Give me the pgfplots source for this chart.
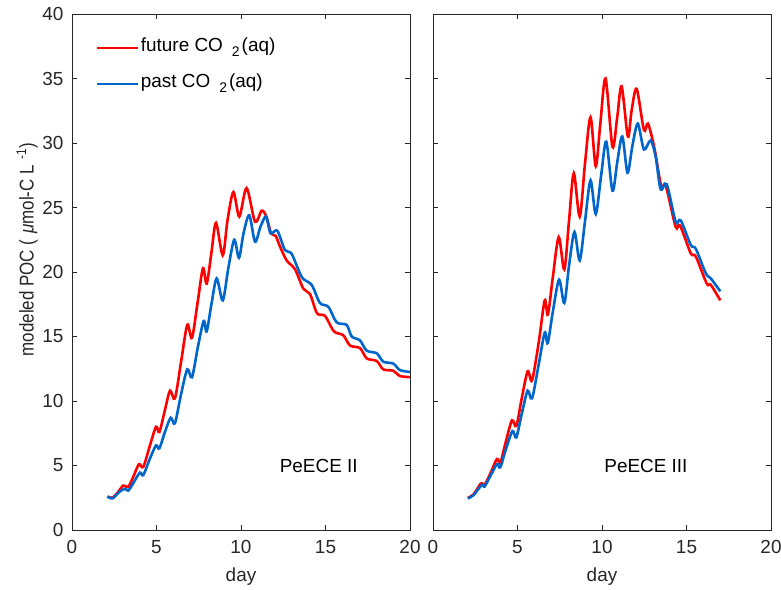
\documentclass[border=0pt]{standalone}
\usepackage{graphicx}
\usepackage{pgfplots}
\pgfplotsset{compat=1.18}
\usepackage{fontspec}
\setmainfont{Liberation Sans}
\definecolor{futred}{rgb}{1,0,0}
\definecolor{pastblue}{rgb}{0.0,0.40,0.80}
\definecolor{axgray}{gray}{0.15}
\newcommand{\subtwo}{\hspace{9bp}\raisebox{-5bp}{\fontsize{14}{14}\selectfont 2}\hspace{2bp}}
\begin{document}
\begin{tikzpicture}
\useasboundingbox (0,0) rectangle (781bp,590bp);
\pgfplotsset{
  base/.style={
    scale only axis, width=338bp, height=516bp,
    xmin=0, xmax=20, ymin=0, ymax=40,
    xtick={0,5,10,15,20}, ytick={0,5,...,40},
    tick align=inside, major tick length=5bp,
    axis line style={axgray, line width=0.6bp},
    every tick/.style={axgray, line width=0.6bp},
    tick label style={font=\fontsize{19}{22}\selectfont, text=axgray},
    xticklabel style={yshift=-7bp},
    yticklabel style={xshift=-5bp},
    label style={font=\fontsize{19}{22}\selectfont, text=axgray},
    /pgf/number format/assume math mode=true,
    xlabel={day},
    xlabel style={at={(axis description cs:0.5,-0.091)}, anchor=center},
    clip=false,
  },
  fut/.style={futred, line width=2.6bp, smooth, tension=0.5, no markers},
  pst/.style={pastblue, line width=2.6bp, smooth, tension=0.5, no markers},
}
\begin{axis}[base, at={(72bp,60bp)}, anchor=south west,
  ylabel={\scalebox{0.85}[1]{modeled POC (\hspace{7bp}\textit{μ}mol-C L\hspace{6bp}\textsuperscript{-1})}},
  ylabel style={at={(axis description cs:-0.133,0.543)}, anchor=center, rotate=0,
    font=\fontsize{20}{22}\selectfont},
  legend style={draw=none, fill=none, at={(axis description cs:0.071,0.957)}, anchor=north west,
    font=\fontsize{19}{22}\selectfont, text=black, row sep=13bp, inner sep=0pt,
    nodes={inner sep=1.5bp, text height=14bp, text depth=6bp},
    cells={anchor=west}},
  legend image code/.code={\draw[#1, line width=2.2bp] (0bp,0bp) -- (41bp,0bp);},
]
\addplot[fut] coordinates {
(2.1,2.6) (2.4,2.5) (2.7,2.9) (3.04,3.45) (3.33,3.35) (3.65,4.2) (3.96,5.1) (4.22,4.9)
(4.6,6.5) (4.97,8.0) (5.17,7.6) (5.5,9.3) (5.8,10.8) (6.09,10.2) (6.45,13.0) (6.82,15.9)
(7.1,14.9) (7.45,17.8) (7.75,20.3) (7.97,19.1) (8.25,21.5) (8.52,23.8) (8.92,21.3)
(9.2,24.0) (9.55,26.2) (9.9,24.3) (10.33,26.5) (10.83,23.9) (11.22,24.75) (11.5,24.3)
(11.78,23.0) (12.05,22.8) (12.3,22.0) (12.7,20.9) (13.2,20.2) (13.69,18.7) (14.08,18.3)
(14.5,16.8) (14.97,16.6) (15.5,15.4) (16.05,15.1) (16.45,14.3) (17.04,14.1) (17.44,13.3)
(18.03,13.1) (18.42,12.45) (19.01,12.35) (19.4,11.94) (20,11.85)};
\addlegendentry{future CO\subtwo(aq)}
\addplot[pst] coordinates {
(2.1,2.6) (2.4,2.45) (2.8,2.95) (3.14,3.2) (3.33,3.05) (3.7,3.8) (4.02,4.45) (4.22,4.26)
(4.6,5.5) (4.97,6.55) (5.17,6.33) (5.5,7.6) (5.84,8.7) (6.09,8.27) (6.45,10.5) (6.82,12.45)
(7.1,11.84) (7.45,14.2) (7.79,16.2) (7.97,15.4) (8.25,17.5) (8.56,19.5) (8.92,17.8)
(9.25,20.3) (9.6,22.5) (9.88,21.1) (10.15,23.0) (10.49,24.4) (10.83,22.35) (11.15,23.5)
(11.48,24.3) (11.75,23.0) (12.15,23.2) (12.6,21.7) (13.0,21.4) (13.6,19.6) (14.18,19.0)
(14.67,17.6) (15.17,17.3) (15.66,16.1) (16.25,15.9) (16.55,15.0) (17.04,14.7) (17.44,13.9)
(18.03,13.7) (18.42,13.05) (19.01,12.9) (19.4,12.4) (20,12.25)};
\addlegendentry{past CO\subtwo(aq)}
\node[font=\fontsize{19}{22}\selectfont, text=black] at (axis cs:14.6,5.0) {PeECE II};
\end{axis}
\begin{axis}[base, at={(433bp,60bp)}, anchor=south west, yticklabels={}]
\addplot[fut] coordinates {
(2.06,2.5) (2.4,2.75) (2.83,3.6) (3.05,3.5) (3.4,4.4) (3.78,5.5) (3.98,5.2) (4.3,6.8)
(4.67,8.5) (4.93,8.06) (5.25,10.2) (5.6,12.3) (5.86,11.6) (6.25,14.5) (6.61,17.8) (6.8,16.7)
(7.1,19.7) (7.44,22.7) (7.77,20.2) (8.05,24.0) (8.33,27.65) (8.68,24.3) (9.0,28.5)
(9.32,32.0) (9.63,28.2) (9.9,31.5) (10.21,35.0) (10.62,29.7) (10.9,32.0) (11.16,34.4)
(11.53,30.5) (11.75,32.5) (12.05,34.2) (12.48,31.0) (12.72,31.5) (13.1,29.6) (13.51,26.6)
(13.77,26.7) (14.36,23.5) (14.62,23.6) (15.25,21.45) (15.55,21.2) (16.2,19.1) (16.44,19.0)
(17,17.8)};
\addplot[pst] coordinates {
(2.06,2.45) (2.4,2.7) (2.89,3.5) (3.05,3.37) (3.4,4.2) (3.78,5.1) (3.98,4.86) (4.3,6.2)
(4.7,7.67) (4.93,7.18) (5.25,9.0) (5.6,10.8) (5.86,10.2) (6.25,12.8) (6.61,15.3) (6.79,14.5)
(7.1,17.0) (7.46,19.4) (7.77,17.6) (8.05,20.5) (8.37,23.1) (8.68,20.9) (9.0,24.0)
(9.32,27.1) (9.63,24.5) (9.95,27.5) (10.25,30.1) (10.62,26.3) (10.9,28.5) (11.2,30.5)
(11.51,27.7) (11.8,29.8) (12.12,31.5) (12.48,29.5) (12.88,30.2) (13.18,28.9) (13.47,26.4)
(13.83,26.8) (14.36,23.9) (14.66,24.0) (15.25,22.1) (15.55,21.8) (16.14,19.9) (16.44,19.5)
(17,18.5)};
\node[font=\fontsize{19}{22}\selectfont, text=black] at (axis cs:12.6,5.0) {PeECE III};
\end{axis}
\end{tikzpicture}
\end{document}
